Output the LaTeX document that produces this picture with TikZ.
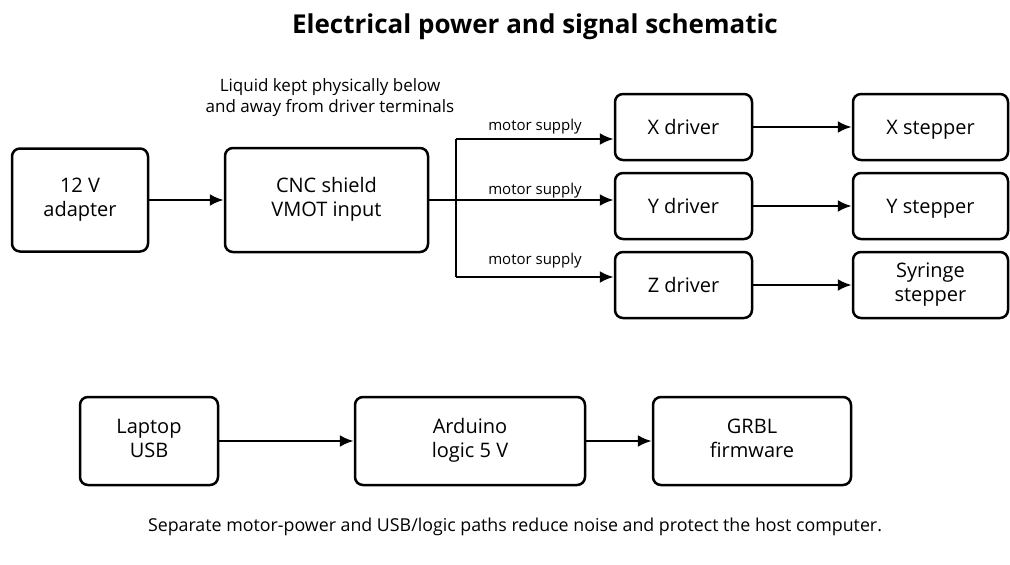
\documentclass[tikz,border=0pt]{standalone}
\usepackage{fontspec}
\setmainfont{Open Sans}
\usetikzlibrary{arrows.meta}
\begin{document}
\begin{tikzpicture}[x=1pt,y=-1pt,
  box/.style={draw,line width=2.5pt,rounded corners=8pt,align=center,
    font=\fontsize{20}{24}\selectfont,inner sep=0pt},
  one/.style={text height=14pt,text depth=0pt},
  conn/.style={line width=2.5pt,-{Latex[length=14pt,width=12pt]}},
  wire/.style={line width=2.5pt},
  lbl/.style={font=\fontsize{15}{18}\selectfont,inner sep=0pt},
  note/.style={font=\fontsize{17}{21}\selectfont,align=center,inner sep=0pt}]
\useasboundingbox (0,0) rectangle (1010,565);
\node[font=\fontsize{26}{30}\selectfont\bfseries] (title) at (535,27) {Electrical power and signal schematic};
\node[box,minimum width=136pt,minimum height=103pt] (adapter) at (80,200) {\strut 12 V\\\strut adapter};
\node[box,minimum width=203pt,minimum height=104pt] (cnc) at (326.5,200) {\strut CNC shield\\\strut VMOT input};
\node[box,one,minimum width=137pt,minimum height=66pt] (xdrv) at (683.5,127) {X driver};
\node[box,one,minimum width=137pt,minimum height=66pt] (ydrv) at (683.5,206) {Y driver};
\node[box,one,minimum width=137pt,minimum height=66pt] (zdrv) at (683.5,285) {Z driver};
\node[box,one,minimum width=155pt,minimum height=66pt] (xst) at (930.5,127) {X stepper};
\node[box,one,minimum width=155pt,minimum height=66pt] (yst) at (930.5,206) {Y stepper};
\node[box,minimum width=155pt,minimum height=66pt] (zst) at (930.5,285) {\strut Syringe\\\strut stepper};
\node[box,minimum width=138pt,minimum height=88pt] (laptop) at (149,441) {\strut Laptop\\\strut USB};
\node[box,minimum width=230pt,minimum height=88pt] (arduino) at (470,441) {\strut Arduino\\\strut logic 5 V};
\node[box,minimum width=198pt,minimum height=88pt] (grbl) at (752,441) {\strut GRBL\\\strut firmware};
\node[note] (liquid) at (330,98) {Liquid kept physically below\\and away from driver terminals};
\node[lbl] (ms1) at (535,127) {motor supply};
\node[lbl] (ms2) at (535,191) {motor supply};
\node[lbl] (ms3) at (535,261) {motor supply};
\node[note,font=\fontsize{17.8}{21}\selectfont] (foot) at (515,527) {Separate motor-power and USB/logic paths reduce noise and protect the host computer.};
\coordinate (bx) at (456,139);
\coordinate (bz) at (456,277);
\draw[conn] (adapter) -- (cnc);
\draw[conn] (cnc.east) -- (cnc.east -| ydrv.west);
\draw[wire] (bx) -- (bz);
\draw[conn] (bx) -- (bx -| xdrv.west);
\draw[conn] (bz) -- (bz -| zdrv.west);
\draw[conn] (xdrv) -- (xst);
\draw[conn] (ydrv) -- (yst);
\draw[conn] (zdrv) -- (zst);
\draw[conn] (laptop) -- (arduino);
\draw[conn] (arduino) -- (grbl);
\end{tikzpicture}
\end{document}
